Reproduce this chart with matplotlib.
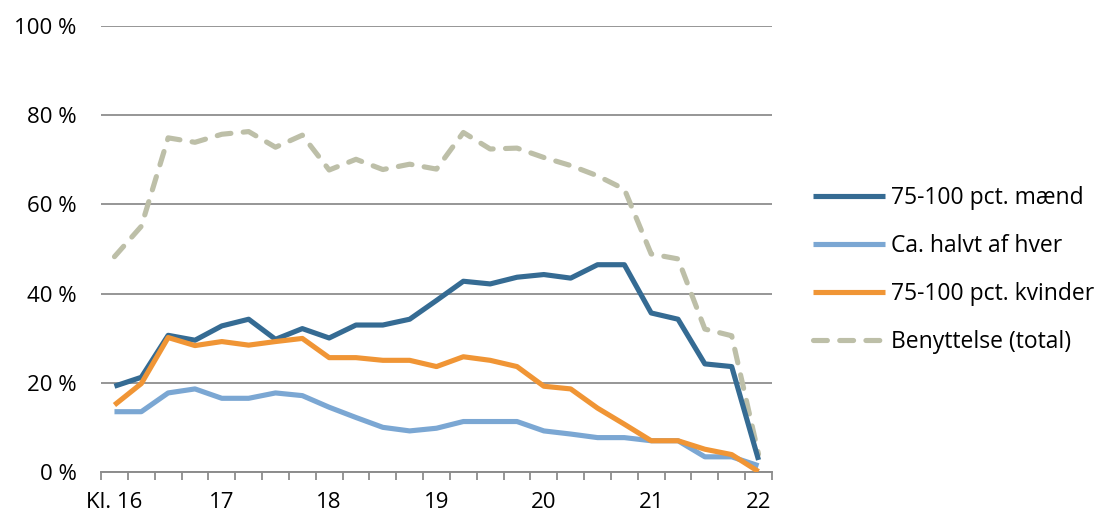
import matplotlib
matplotlib.use("Agg")
import matplotlib.pyplot as plt
from matplotlib.ticker import FixedLocator, FuncFormatter

plt.rcParams['font.family'] = ['Open Sans', 'DejaVu Sans']

# 25 quarter-hour points, 16:00 - 22:00
tick_labels = ["Kl. 16", "17", "18", "19", "20", "21", "22"]

maend = [19.3, 21.3, 30.7, 29.6, 32.8, 34.3, 29.8, 32.2, 30.1, 33.0, 33.0, 34.3,
         38.5, 42.8, 42.2, 43.7, 44.3, 43.5, 46.5, 46.5, 35.7, 34.3, 24.3, 23.7, 2.8]
halvt = [13.6, 13.6, 17.8, 18.7, 16.6, 16.6, 17.8, 17.2, 14.6, 12.3, 10.1, 9.3,
         9.9, 11.4, 11.4, 11.4, 9.3, 8.6, 7.8, 7.8, 7.1, 7.1, 3.5, 3.5, 1.5]
kvinder = [15.1, 19.9, 30.2, 28.4, 29.3, 28.5, 29.3, 30.0, 25.7, 25.7, 25.1, 25.1,
           23.7, 25.9, 25.1, 23.7, 19.3, 18.7, 14.4, 10.8, 7.1, 7.1, 5.2, 4.0, 0.2]
benyttelse = [48.3, 55.1, 74.9, 73.9, 75.7, 76.3, 72.8, 75.5, 67.7, 70.1, 67.8, 69.0,
              67.9, 76.1, 72.4, 72.6, 70.5, 68.7, 66.4, 63.4, 48.9, 47.8, 32.1, 30.6, 4.1]

series_names = ["75-100 pct. mænd", "Ca. halvt af hver", "75-100 pct. kvinder", "Benyttelse (total)"]
colors = ["#356B93", "#7BA7D3", "#F09535", "#BDBFA8"]

fs_tick = 16
fs_leg = 16.5

fig = plt.figure(figsize=(11.02, 5.15), dpi=100)
ax = fig.add_axes([0.0917, 0.0826, 0.6088, 0.8675])

x = list(range(len(maend)))
lw = 3.7
ax.plot(x, maend, color=colors[0], lw=lw, label=series_names[0], solid_capstyle='butt', zorder=4)
ax.plot(x, halvt, color=colors[1], lw=lw, label=series_names[1], solid_capstyle='butt', zorder=3)
ax.plot(x, kvinder, color=colors[2], lw=lw, label=series_names[2], solid_capstyle='butt', zorder=5)
ax.plot(x, benyttelse, color=colors[3], lw=lw, label=series_names[3], dashes=(2.7, 2.4),
        dash_capstyle='round', zorder=2)

ax.set_xlim(-0.5, len(maend) - 0.5)
ax.set_ylim(0, 100)

ax.yaxis.set_major_locator(FixedLocator([0, 20, 40, 60, 80, 100]))
ax.yaxis.set_major_formatter(FuncFormatter(lambda v, p: f"{int(v)} %"))
ax.grid(axis='y', color='#969696', lw=1.4, zorder=0)
ax.tick_params(axis='y', length=0, pad=17.5, labelsize=fs_tick, colors='#000000')

ax.set_xticks([i * 4 for i in range(len(tick_labels))])
ax.set_xticklabels(tick_labels, fontsize=fs_tick)
ax.tick_params(axis='x', length=0, pad=14)
ax.set_xticks([i - 0.5 for i in range(len(maend) + 1)], minor=True)
ax.tick_params(axis='x', which='minor', length=6, width=1.3, color='#8c8c8c')

for s in ['top', 'right', 'left']:
    ax.spines[s].set_visible(False)
ax.spines['bottom'].set_color('#8c8c8c')
ax.spines['bottom'].set_linewidth(1.4)

leg = fig.legend(loc='upper left', bbox_to_anchor=(0.727, 0.661), frameon=False,
                 fontsize=fs_leg, handlelength=3.15, handletextpad=0.27, labelspacing=1.05,
                 borderpad=0)

fig.savefig("out.png", dpi=100)
